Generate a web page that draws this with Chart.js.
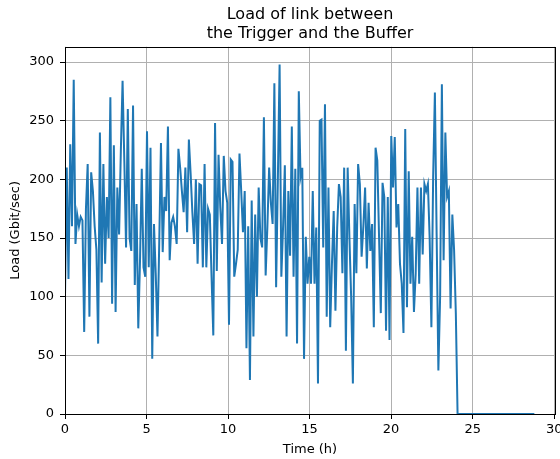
<!DOCTYPE html>
<html>
<head>
<meta charset="utf-8">
<script src="https://cdn.jsdelivr.net/npm/chart.js@4/dist/chart.umd.min.js"></script>
<style>
  html, body { margin: 0; padding: 0; background: #fff; }
  #wrap { width: 560px; height: 459px; }
</style>
</head>
<body>
<div id="wrap"><canvas id="grafico"></canvas></div>
<script>
// hours between two samples
const step = 0.107;

// load samples in Gbit/sec (one every step hours from 0 h)
const loads = [
  100, 210, 115, 230, 160, 285, 145, 170, 160, 168, 165, 70, 175, 213, 83, 206, 190, 160, 140, 60, 240, 112, 213,
  128, 185, 150, 270, 94, 229, 87, 193, 153, 224, 284, 216, 142, 260, 150, 139, 263, 110, 179, 73, 131, 209, 125,
  117, 241, 125, 227, 47, 162, 120, 66, 145, 231, 138, 185, 173, 245, 131, 163, 168, 160, 145, 226, 210, 190, 172, 210,
  155, 234, 205, 172, 145, 200, 128, 196, 195, 125, 213, 125, 175, 170, 117, 67, 248, 122, 221, 176, 145,
  220, 190, 180, 76, 217, 215, 117, 128, 140, 222, 190, 155, 190, 56, 160, 29, 182, 66, 170, 100, 193,
  150, 142, 253, 118, 160, 210, 180, 162, 282, 108, 200, 298, 117, 160, 212, 66, 190, 135, 245, 117, 209, 60, 275,
  202, 210, 47, 151, 111, 134, 111, 190, 111, 159, 26, 250, 251, 142, 264, 83, 193, 74, 128, 173, 88, 159, 196,
  185, 120, 210, 54, 210, 151, 100, 26, 179, 120, 213, 196, 134, 160, 193, 124, 180, 139, 162, 74, 227, 216, 151,
  86, 197, 185, 71, 185, 63, 237, 193, 236, 159, 179, 128, 111, 69, 243, 91, 207, 111, 151, 87, 120, 193,
  111, 193, 136, 196, 190, 196, 150, 74, 202, 274, 153, 37, 100, 281, 131, 240, 185, 190, 90, 170, 140, 86,
  // link idle after the run
  0, 0, 0, 0, 0, 0, 0, 0, 0, 0, 0, 0, 0, 0, 0, 0, 0, 0, 0, 0, 0, 0, 0, 0, 0,
  0, 0, 0, 0, 0, 0, 0, 0, 0, 0, 0, 0, 0, 0, 0, 0, 0, 0, 0, 0
];

const xTicks = [0, 5, 10, 15, 20, 25, 30];
const yTicks = [0, 50, 100, 150, 200, 250, 300];

const fonte = 'DejaVu Sans';

// pontos (tempo, carga)
const pontos = loads.map((v, i) => ({ x: i * step, y: v }));

// moldura preta em volta da area do grafico (como os spines do matplotlib)
const moldura = {
  id: 'moldura',
  afterDatasetsDraw(chart) {
    const a = chart.chartArea;
    const ctx = chart.ctx;
    ctx.save();
    ctx.strokeStyle = '#000';
    ctx.lineWidth = 1;
    ctx.strokeRect(Math.round(a.left) + 0.5, Math.round(a.top) + 0.5,
      Math.round(a.right - a.left), Math.round(a.bottom - a.top));
    ctx.restore();
  }
};

new Chart(document.getElementById('grafico'), {
  type: 'line',
  data: {
    datasets: [{
      label: 'Load',
      data: pontos,
      borderColor: '#1f77b4',
      borderWidth: 2,
      pointRadius: 0,
      tension: 0,
      fill: false
    }]
  },
  options: {
    responsive: true,
    maintainAspectRatio: false,
    animation: false,
    layout: { padding: { left: 0, right: 5, top: 0, bottom: 0 } },
    plugins: {
      legend: { display: false },
      tooltip: { enabled: false },
      title: {
        display: true,
        fullSize: false,
        text: ['Load of link between', 'the Trigger and the Buffer'],
        color: '#000',
        font: { family: fonte, size: 16, weight: 'normal', lineHeight: 1.15 },
        padding: { top: 6, bottom: 4 }
      }
    },
    scales: {
      x: {
        type: 'linear',
        min: 0,
        max: 30.05,
        afterBuildTicks: (s) => { s.ticks = xTicks.map(v => ({ value: v })); },
        afterFit: (s) => { s.height = 45; s.paddingLeft = 0; s.paddingRight = 0; },
        grid: { color: '#b0b0b0', lineWidth: 1, tickColor: '#000', tickLength: 5 },
        border: { display: false },
        ticks: { color: '#000', font: { family: fonte, size: 13 }, padding: 3, maxRotation: 0 },
        title: {
          display: true,
          text: 'Time (h)',
          color: '#000',
          font: { family: fonte, size: 13 },
          padding: { top: 0, bottom: 2 }
        }
      },
      y: {
        min: 0,
        max: 313,
        afterBuildTicks: (s) => { s.ticks = yTicks.map(v => ({ value: v })); },
        afterFit: (s) => { s.width = 65; },
        grid: { color: '#b0b0b0', lineWidth: 1, tickColor: '#000', tickLength: 5 },
        border: { display: false },
        ticks: { color: '#000', font: { family: fonte, size: 13 }, padding: 6 },
        title: {
          display: true,
          text: 'Load (Gbit/sec)',
          color: '#000',
          font: { family: fonte, size: 13 },
          padding: { top: 8, bottom: 0 }
        }
      }
    }
  },
  plugins: [moldura]
});
</script>
</body>
</html>
